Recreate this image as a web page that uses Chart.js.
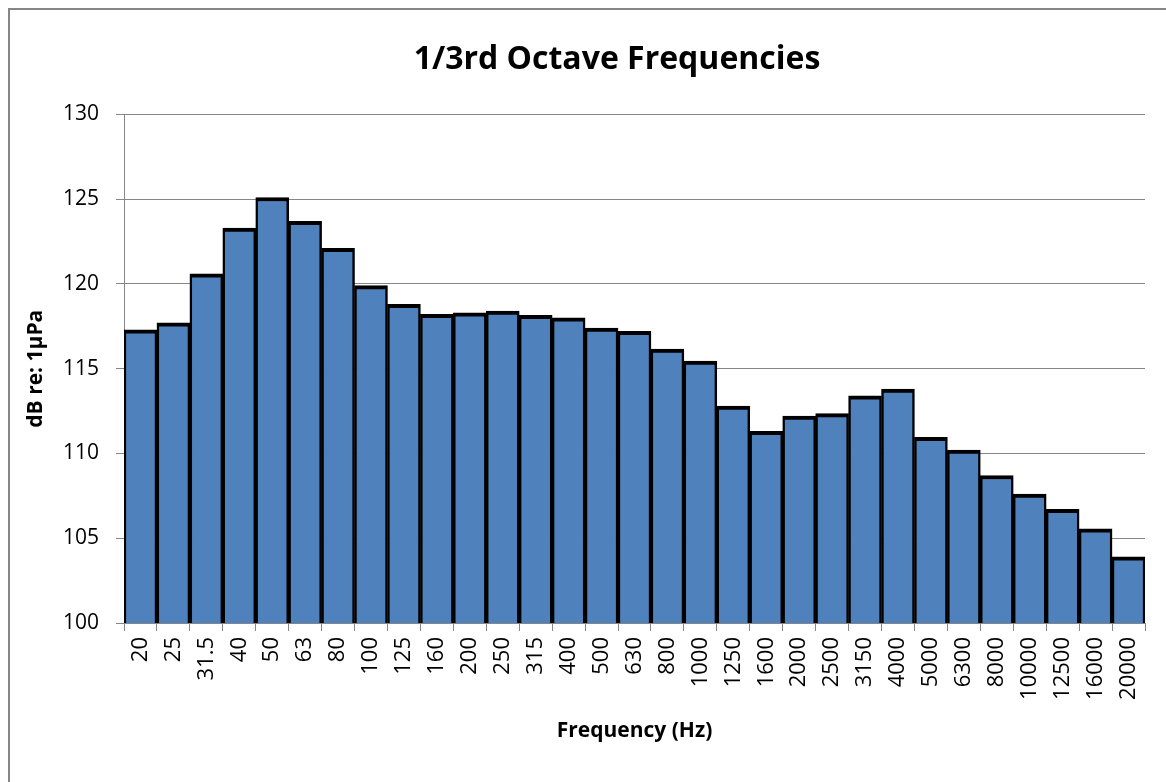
<!DOCTYPE html>
<html lang="en">
<head>
    <meta charset="UTF-8">
    <title>1/3rd Octave Frequencies</title>
    <script src="https://cdn.jsdelivr.net/npm/chart.js@4.4.1/dist/chart.umd.min.js"></script>
    <style>
        html, body {
            margin: 0;
            padding: 0;
            overflow: hidden;
            background: #ffffff;
        }
        .chart-box {
            width: 1234px;
            height: 790px;
        }
    </style>
</head>
<body>
    <div class="chart-box">
        <canvas id="octaveChart" width="1234" height="790"></canvas>
    </div>

    <script>
        const bands = ['20', '25', '31.5', '40', '50', '63', '80', '100', '125', '160', '200', '250', '315', '400', '500', '630',
            '800', '1000', '1250', '1600', '2000', '2500', '3150', '4000', '5000', '6300', '8000', '10000', '12500', '16000', '20000'];
        const levels = [117.3, 117.7, 120.6, 123.3, 125.1, 123.7, 122.1, 119.9, 118.8, 118.2, 118.3, 118.4, 118.15, 118.0, 117.4, 117.2,
            116.15, 115.45, 112.8, 111.3, 112.2, 112.35, 113.4, 113.8, 110.95, 110.2, 108.7, 107.6, 106.7, 105.55, 103.9];
        const yTicks = [100, 105, 110, 115, 120, 125, 130];

        const gridGray = '#868686';
        const font = 'Open Sans';

        // outer chart frame, like the spreadsheet chart border
        const framePlugin = {
            id: 'frame',
            beforeDraw(chart) {
                const c = chart.ctx;
                c.save();
                c.strokeStyle = gridGray;
                c.lineWidth = 2;
                c.strokeRect(9, 9, chart.width - 10, chart.height);
                c.restore();
            }
        };

        const ctx = document.getElementById('octaveChart').getContext('2d');
        new Chart(ctx, {
            type: 'bar',
            data: {
                labels: bands,
                datasets: [{
                    data: levels,
                    backgroundColor: '#4F81BD',
                    borderColor: '#000000',
                    borderWidth: { top: 4, left: 2.5, right: 2.5, bottom: 0 },
                    borderSkipped: false,
                    categoryPercentage: 1.0,
                    barPercentage: 1.0
                }]
            },
            plugins: [framePlugin],
            options: {
                responsive: false,
                animation: false,
                layout: {
                    padding: { top: 8, left: 0, right: 0, bottom: 17 }
                },
                plugins: {
                    legend: { display: false },
                    tooltip: { enabled: false },
                    title: {
                        display: true,
                        text: '1/3rd Octave Frequencies',
                        color: '#000000',
                        font: { family: font, size: 32, weight: 'bold', lineHeight: 1.2 },
                        padding: { top: 33, bottom: 35 }
                    }
                },
                scales: {
                    x: {
                        grid: {
                            offset: true,
                            drawOnChartArea: false,
                            color: gridGray,
                            tickLength: 8
                        },
                        border: { color: gridGray },
                        ticks: {
                            color: '#000000',
                            font: { family: font, size: 22 },
                            minRotation: 90,
                            maxRotation: 90,
                            autoSkip: false,
                            padding: 6
                        },
                        title: {
                            display: true,
                            text: 'Frequency (Hz)',
                            color: '#000000',
                            font: { family: font, size: 21, weight: 'bold', lineHeight: 1.2 },
                            padding: { top: 0, bottom: 29 }
                        },
                        afterFit(scale) { scale.height = 150; }
                    },
                    y: {
                        min: 100,
                        max: 130,
                        afterBuildTicks(scale) { scale.ticks = yTicks.map(v => ({ value: v })); },
                        grid: {
                            color: gridGray,
                            tickLength: 8
                        },
                        border: { color: gridGray },
                        ticks: {
                            color: '#000000',
                            font: { family: font, size: 21 },
                            padding: 17
                        },
                        title: {
                            display: true,
                            text: 'dB re: 1µPa',
                            color: '#000000',
                            font: { family: font, size: 21, weight: 'bold', lineHeight: 1.2 },
                            padding: { top: 23, bottom: 0 }
                        },
                        afterFit(scale) { scale.width = 124; }
                    },
                    // empty right-hand strip, so the title centres on the whole chart box
                    spacer: {
                        type: 'linear',
                        position: 'right',
                        min: 100,
                        max: 130,
                        grid: { display: false, drawTicks: false },
                        border: { display: false },
                        ticks: { display: false },
                        afterFit(scale) { scale.width = 89; }
                    }
                }
            }
        });
    </script>
</body>
</html>
